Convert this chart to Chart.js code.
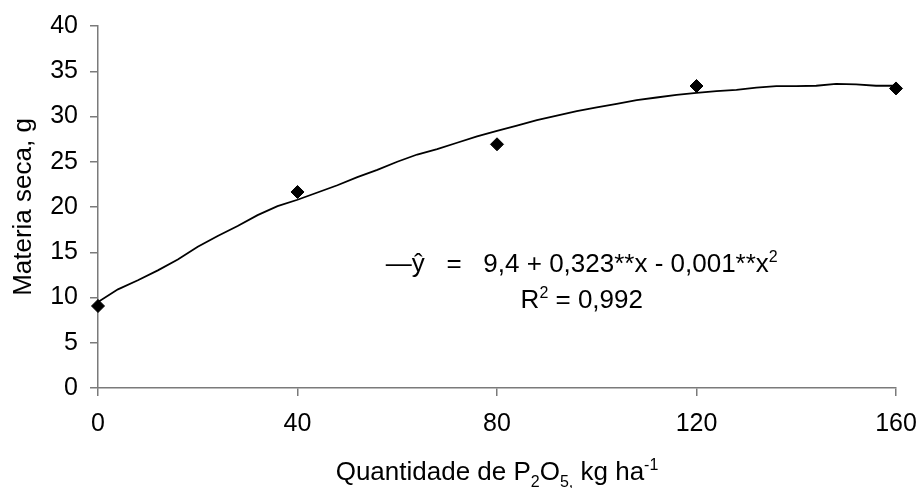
<!DOCTYPE html>
<html>
<head>
<meta charset="utf-8">
<script src="https://cdn.jsdelivr.net/npm/chart.js@4.4.1/dist/chart.umd.min.js"></script>
<style>
  html, body { margin: 0; padding: 0; background: #fff; }
</style>
</head>
<body>
<canvas id="chart" width="919" height="488"></canvas>
<script>
// observed points
const doses = [0, 40, 80, 120, 160]
const materiaSeca = [9.06, 21.66, 26.93, 33.37, 33.1]

// fitted curve
const curveX = [0, 4, 8, 12, 16, 20, 24, 28, 32, 36, 40, 44, 48, 52, 56, 60, 64, 68, 72, 76, 80,
  84, 88, 92, 96, 100, 104, 108, 112, 116, 120, 124, 128, 132, 136, 140, 144, 148, 152, 156, 160]
const curveY = [9.5, 10.9, 11.9, 13.0, 14.2, 15.6, 16.8, 17.9, 19.1, 20.1, 20.8, 21.6, 22.4, 23.3, 24.1, 25.0, 25.8, 26.4, 27.1, 27.8, 28.4,
  29.0, 29.6, 30.1, 30.6, 31.0, 31.4, 31.8, 32.1, 32.4, 32.6, 32.8, 32.95, 33.2, 33.35, 33.35, 33.4, 33.6, 33.55, 33.4, 33.4]

const xTicks = [0, 40, 80, 120, 160]
const yTicks = [0, 5, 10, 15, 20, 25, 30, 35, 40]

const FAMILY = '"Liberation Sans", Arial, sans-serif'
const SIZE = 26
const TICK_SIZE = 25
const AXIS = '#7a7a7a'

Chart.defaults.font.family = FAMILY
Chart.defaults.font.size = TICK_SIZE
Chart.defaults.color = '#000'

// text with sub / superscripts, centred on cx
let drawRich = (ctx, parts, cx, baseline) => {
  let fontOf = p => (p.s ? Math.round(SIZE * 0.6) : SIZE) + 'px ' + FAMILY
  let w = 0
  parts.forEach(p => {
    ctx.font = fontOf(p)
    w += ctx.measureText(p.t).width
  })
  let x = cx - w / 2
  parts.forEach(p => {
    ctx.font = fontOf(p)
    let dy = p.s === 'sup' ? -SIZE * 0.38 : p.s === 'sub' ? SIZE * 0.26 : 0
    ctx.fillText(p.t, x, baseline + dy)
    x += ctx.measureText(p.t).width
  })
}

const textPlugin = {
  id: 'texts',
  afterDraw (chart) {
    let ctx = chart.ctx
    let area = chart.chartArea
    let xs = chart.scales.x
    let ys = chart.scales.y
    ctx.save()
    ctx.fillStyle = '#000'
    ctx.textAlign = 'left'
    ctx.textBaseline = 'alphabetic'

    // x title
    drawRich(ctx, [
      { t: 'Quantidade de P' }, { t: '2', s: 'sub' }, { t: 'O' }, { t: '5,', s: 'sub' },
      { t: ' kg ha' }, { t: '-1', s: 'sup' }
    ], (area.left + area.right) / 2, 480)

    // regression equation
    let cx = xs.getPixelForValue(97)
    drawRich(ctx, [
      { t: '\u2014\u0177   =   9,4 + 0,323**x - 0,001**x' }, { t: '2', s: 'sup' }
    ], cx, ys.getPixelForValue(12.8))
    drawRich(ctx, [
      { t: 'R' }, { t: '2', s: 'sup' }, { t: ' = 0,992' }
    ], cx, ys.getPixelForValue(8.8))

    // y title
    ctx.translate(31, (area.top + area.bottom) / 2)
    ctx.rotate(-Math.PI / 2)
    ctx.font = SIZE + 'px ' + FAMILY
    ctx.textAlign = 'center'
    ctx.fillText('Materia seca, g', 0, 0)
    ctx.restore()
  }
}

new Chart(document.getElementById('chart'), {
  type: 'scatter',
  data: {
    datasets: [
      {
        label: 'observado',
        data: doses.map((d, i) => ({ x: d, y: materiaSeca[i] })),
        pointStyle: 'rectRot',
        pointRadius: 6.5,
        backgroundColor: '#000',
        borderColor: '#000',
        borderWidth: 1,
        showLine: false,
        clip: false
      },
      {
        label: 'ajuste',
        data: curveX.map((d, i) => ({ x: d, y: curveY[i] })),
        showLine: true,
        pointRadius: 0,
        borderColor: '#000',
        borderWidth: 1.8,
        tension: 0
      }
    ]
  },
  options: {
    responsive: false,
    animation: false,
    events: [],
    layout: { padding: { left: 0, right: 23, top: 26, bottom: 0 } },
    plugins: {
      legend: { display: false },
      tooltip: { enabled: false }
    },
    scales: {
      x: {
        type: 'linear',
        min: 0,
        max: 160,
        afterBuildTicks (scale) {
          scale.ticks = xTicks.map(v => ({ value: v }))
        },
        afterFit (scale) {
          scale.height = 100
          scale.paddingLeft = 0
          scale.paddingRight = 0
        },
        ticks: { padding: 13, maxRotation: 0, color: '#000' },
        grid: { drawOnChartArea: false, tickLength: 8, color: AXIS, lineWidth: 1.5 },
        border: { color: AXIS, width: 1.5 }
      },
      y: {
        type: 'linear',
        min: 0,
        max: 40,
        afterBuildTicks (scale) {
          scale.ticks = yTicks.map(v => ({ value: v }))
        },
        afterFit (scale) {
          scale.width = 98
          scale.paddingTop = 0
          scale.paddingBottom = 0
        },
        ticks: { padding: 12, color: '#000' },
        grid: { drawOnChartArea: false, tickLength: 8, color: AXIS, lineWidth: 1.5 },
        border: { color: AXIS, width: 1.5 }
      }
    }
  },
  plugins: [textPlugin]
})
</script>
</body>
</html>
